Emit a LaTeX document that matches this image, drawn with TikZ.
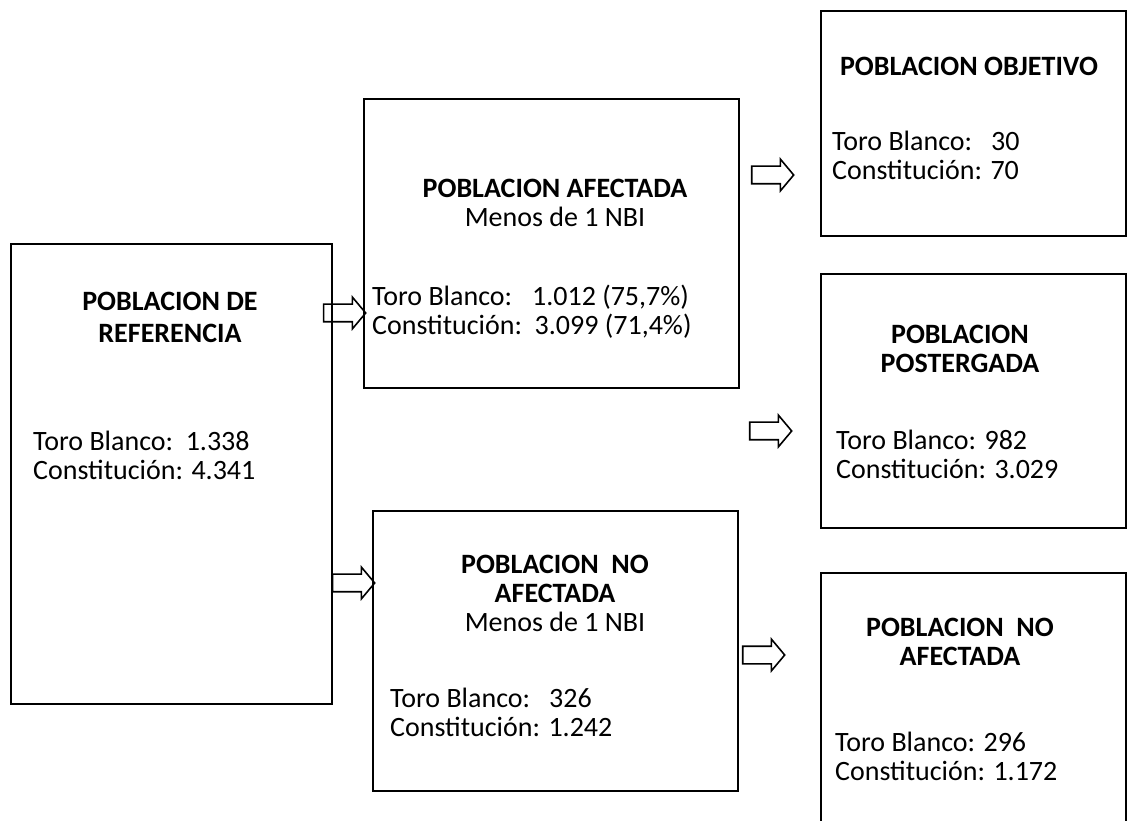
\documentclass[tikz,border=0pt]{standalone}
\usepackage{fontspec}
\setmainfont{Carlito}
\usetikzlibrary{shapes.arrows,positioning}
\tikzstyle{box}=[draw,line width=1.6pt,rectangle,anchor=north west,inner sep=0pt]
\tikzstyle{title}=[font=\fontsize{28}{29}\selectfont\bfseries,align=center,inner sep=0pt]
\tikzstyle{data}=[font=\fontsize{28}{29}\selectfont,align=left,anchor=west,inner sep=0pt]
\tikzstyle{blockarrow}=[draw,line width=1.6pt,single arrow,minimum height=42pt,inner xsep=0pt,inner ysep=8pt,single arrow head extend=7pt,single arrow tip angle=100]

\begin{document}
\begin{tikzpicture}[x=1pt,y=1pt]
    \useasboundingbox (0,0) rectangle (1130,820);
    \clip (0,0) rectangle (1130,820);
    % First we draw the boxes
    \node[box,minimum width=321,minimum height=460] (ref) at (10,577) {};
    \node[box,minimum width=375,minimum height=289] (afect) at (363,722) {};
    \node[box,minimum width=365,minimum height=280] (noafect) at (372,310) {};
    \node[box,minimum width=305,minimum height=225] (obj) at (820,810) {};
    \node[box,minimum width=305,minimum height=254] (post) at (820,547) {};
    \node[box,minimum width=305,minimum height=270] (noafect2) at (820,248) {};
    % Titles of the boxes
    \node[title] (refT) at (170,503) {POBLACION DE\\[3pt]REFERENCIA};
    \node[title] (afectT) at (555,617) {POBLACION AFECTADA\\{\mdseries Menos de 1 NBI}};
    \node[title] (noafectT) at (555,227) {POBLACION\ \ NO\\AFECTADA\\{\mdseries Menos de 1 NBI}};
    \node[title] (objT) at (969,754) {POBLACION OBJETIVO};
    \node[title] (postT) at (960,471) {POBLACION\\POSTERGADA};
    \node[title] (noafect2T) at (960,178) {POBLACION\ \ NO\\AFECTADA};
    % Then the numbers
    \node[data] (refD) at (33,365) {Toro Blanco:\ \ 1.338\\Constitución: 4.341};
    \node[data] (afectD) at (372,508) {Toro Blanco:\hspace{20pt}1.012 (75,7\%)\\Constitución:\ \ 3.099 (71,4\%)};
    \node[data] (noafectD) at (390,108) {Toro Blanco:\ \ \ 326\\Constitución: 1.242};
    \node[data] (objD) at (832,665) {Toro Blanco:\ \ \ 30\\Constitución: 70};
    \node[data] (postD) at (836,366) {Toro Blanco: 982\\Constitución: 3.029};
    \node[data] (noafect2D) at (835,64) {Toro Blanco: 296\\Constitución: 1.172};
    % Block arrows between the boxes
    \foreach \pos/\name in {{(341,507)/a1}, {(350,237)/a2}, {(769,645)/a3}, {(767,389)/a4}, {(760,165)/a5}}
        \node[blockarrow] (\name) at \pos {};
\end{tikzpicture}
\end{document}
